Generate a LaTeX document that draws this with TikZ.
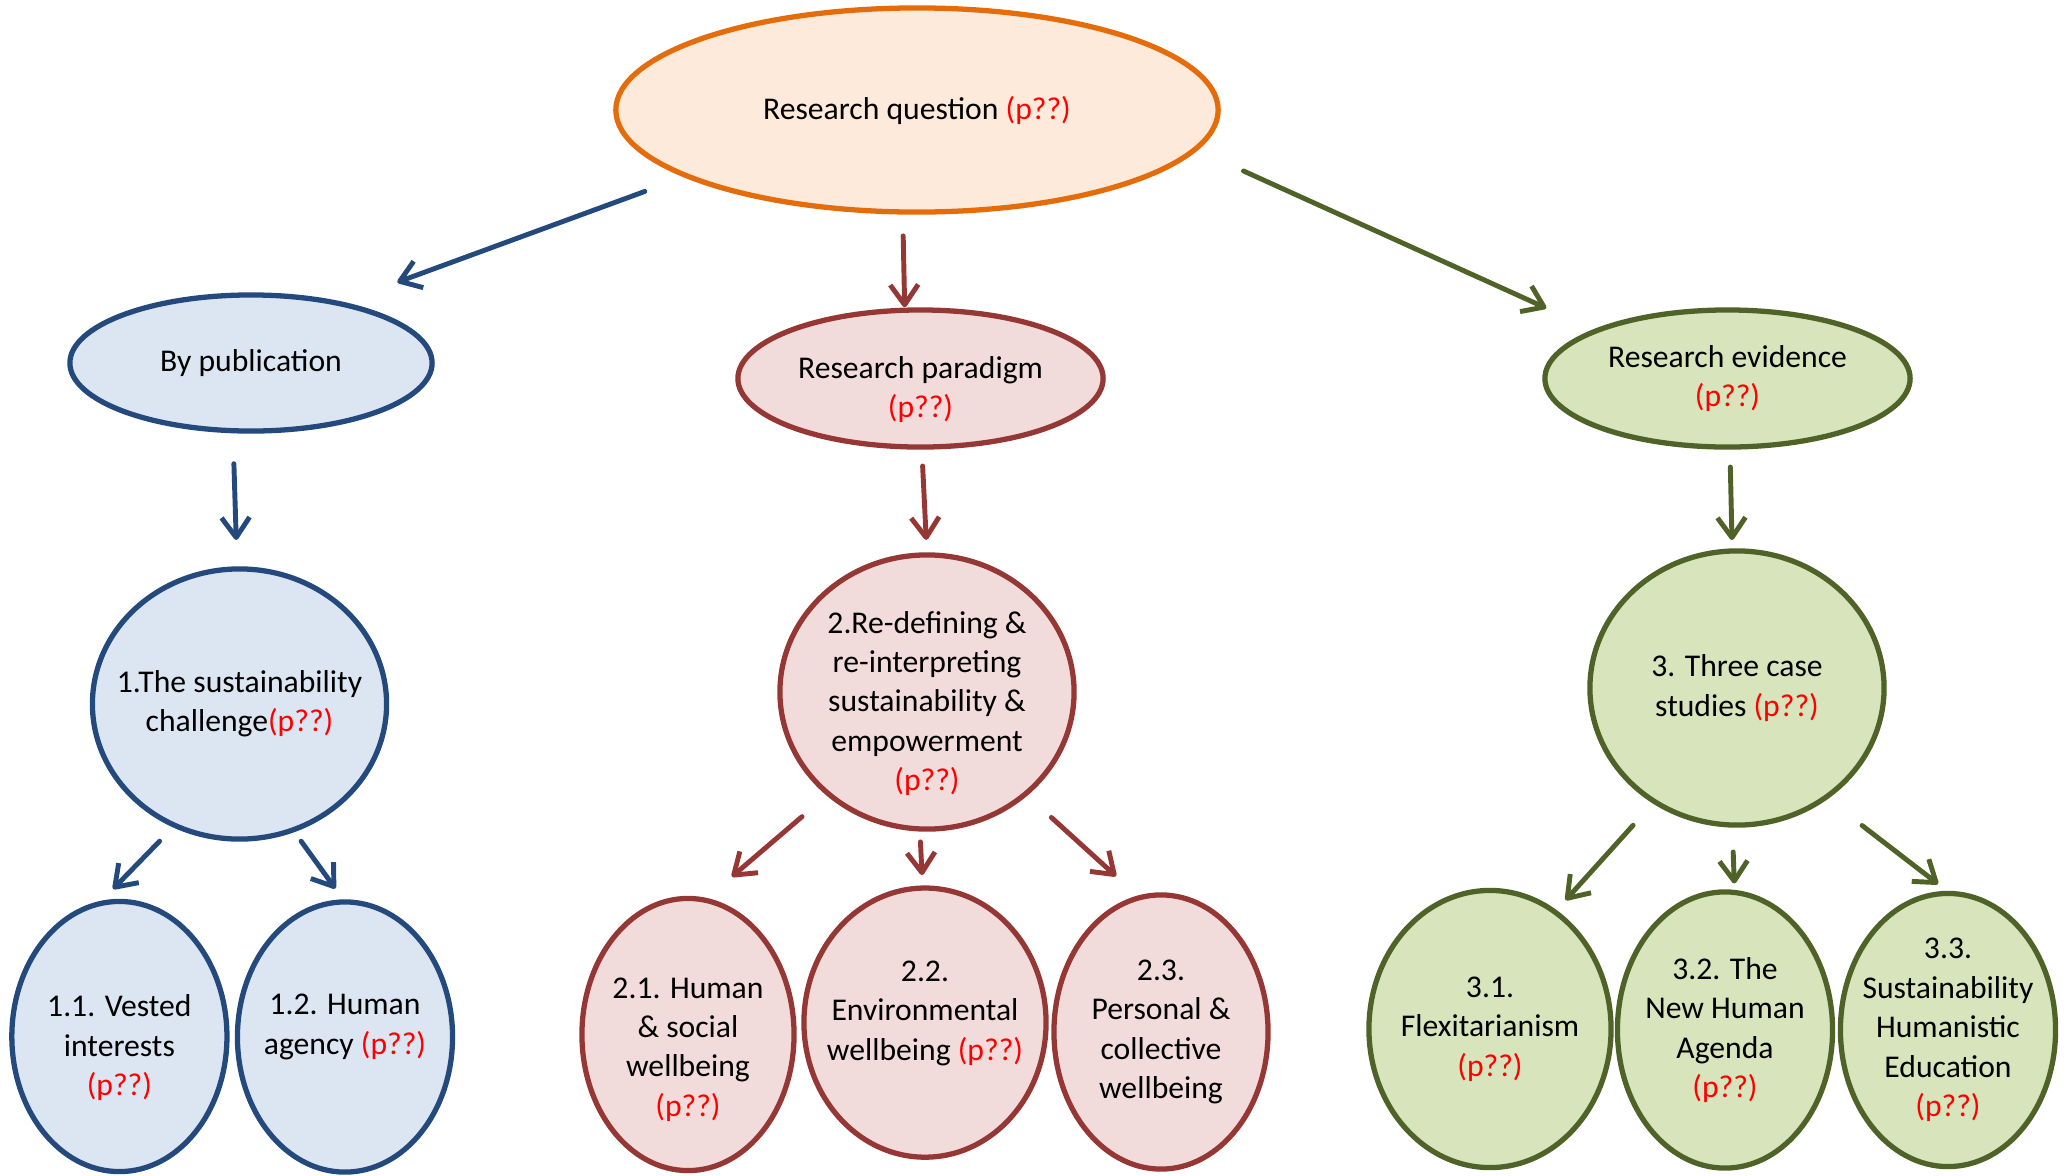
\documentclass[tikz,border=0pt]{standalone}
\usepackage{fontspec}
\setmainfont{Carlito}
\usetikzlibrary{shapes.geometric, arrows.meta}
\definecolor{qline}{RGB}{228,108,10}
\definecolor{qfill}{RGB}{253,234,218}
\definecolor{publine}{RGB}{36,73,125}
\definecolor{pubfill}{RGB}{220,230,242}
\definecolor{parline}{RGB}{149,55,53}
\definecolor{parfill}{RGB}{242,220,219}
\definecolor{evline}{RGB}{79,98,40}
\definecolor{evfill}{RGB}{215,228,188}
\definecolor{pref}{RGB}{255,0,0}
\newcommand{\pqq}{\textcolor{pref}{(p??)}}

\begin{document}
\begin{tikzpicture}[
    x=0.01cm, y=-0.01cm,
    oval/.style={ellipse, line width=1.5pt, inner xsep=-12pt, inner ysep=-8pt, outer sep=0pt, align=center, font=\fontsize{9}{11.2}\selectfont},
    question/.style={oval, fill=qfill, draw=qline},
    pub/.style={oval, fill=pubfill, draw=publine},
    para/.style={oval, fill=parfill, draw=parline},
    evid/.style={oval, fill=evfill, draw=evline},
    arrow/.style={line width=1.4pt, line cap=round, -{Straight Barb[length=0.2cm, width=0.28cm, line join=round]}},
    parrow/.style={arrow, draw=publine},
    rarrow/.style={arrow, draw=parline},
    earrow/.style={arrow, draw=evline}
]
\useasboundingbox (0,0) rectangle (2069,1175);

\node[question, minimum width=6.02cm, minimum height=2.04cm] (question) at (917,110) {Research question \pqq};

\node[pub, minimum width=3.62cm, minimum height=1.36cm] (bypub) at (251,363) {By publication};
\node[para, minimum width=3.65cm, minimum height=1.37cm, text height=23.9pt] (paradigm) at (920.5,378.5) {Research paradigm\\\pqq};
\node[evid, minimum width=3.65cm, minimum height=1.37cm] (evidence) at (1727.5,378.5) {Research evidence\\\pqq};

\node[pub, minimum width=2.94cm, minimum height=2.70cm] (challenge) at (239.5,704) {1.The sustainability\\challenge\pqq};
\node[para, minimum width=2.94cm, minimum height=2.74cm, text height=57.5pt] (redefine) at (927,692) {2.Re-defining \&\\re-interpreting\\sustainability \&\\empowerment\\\pqq};
\node[evid, minimum width=2.94cm, minimum height=2.74cm] (cases) at (1737,688) {3. Three case\\studies \pqq};

\node[pub, minimum width=2.15cm, minimum height=2.70cm, text height=35.1pt] (vested) at (119.4,1036.5) {1.1. Vested\\interests\\\pqq};
\node[pub, minimum width=2.15cm, minimum height=2.70cm, text depth=7.3pt] (agency) at (345,1037) {1.2. Human\\agency \pqq};

\node[para, minimum width=2.12cm, minimum height=2.72cm, text height=48pt] (social) at (688,1034.5) {2.1. Human\\\& social\\wellbeing\\\pqq};
\node[para, minimum width=2.42cm, minimum height=2.69cm, text depth=6.8pt] (environ) at (925,1022.6) {2.2.\\Environmental\\wellbeing \pqq};
\node[para, minimum width=2.14cm, minimum height=2.74cm] (collective) at (1161,1032) {2.3.\\Personal \&\\collective\\wellbeing};

\node[evid, minimum width=2.42cm, minimum height=2.77cm] (flexi) at (1490,1029) {3.1.\\Flexitarianism\\\pqq};
\node[evid, minimum width=2.15cm, minimum height=2.76cm] (agenda) at (1725,1030) {3.2. The\\New Human\\Agenda\\\pqq};
\node[evid, minimum width=2.15cm, minimum height=2.73cm] (education) at (1948,1030) {3.3.\\Sustainability\\Humanistic\\Education\\\pqq};

\draw[parrow, shorten <=0.45cm, shorten >=0.62cm] (question.196) -- (bypub.34.5);
\draw[rarrow, shorten <=0.24cm, shorten >=0.03cm] (question.262.7) -- (paradigm.103.9);
\draw[earrow, shorten <=0.53cm, shorten >=0.55cm] (question.352.6) -- (evidence.160.9);

\draw[parrow, shorten <=0.33cm, shorten >=0.29cm] (bypub.255.9) -- (challenge.91.9);
\draw[rarrow, shorten <=0.19cm, shorten >=0.15cm] (paradigm.271) -- (redefine.90.8);
\draw[earrow, shorten <=0.20cm, shorten >=0.11cm] (evidence.272.1) -- (cases.92.5);

\draw[parrow, shorten <=0.22cm, shorten >=0.21cm] (challenge.242.1) -- (vested.99);
\draw[parrow, shorten <=0.14cm, shorten >=0.165cm] (challenge.293.5) -- (agency.90.7);

\draw[rarrow, shorten <=0.35cm, shorten >=0.36cm] (redefine.226.3) -- (social.83.8);
\draw[rarrow, shorten <=0.13cm, shorten >=0.13cm] (redefine.267.9) -- (environ.91.3);
\draw[rarrow, shorten <=0.35cm, shorten >=0.32cm] (redefine.314.4) -- (collective.99.1);

\draw[earrow, shorten <=0.32cm, shorten >=0.16cm] (cases.234.7) -- (flexi.61.3);
\draw[earrow, shorten <=0.27cm, shorten >=0.09cm] (cases.268.3) -- (agenda.86.7);
\draw[earrow, shorten <=0.46cm, shorten >=0.155cm] (cases.309) -- (education.89.9);

\end{tikzpicture}
\end{document}
